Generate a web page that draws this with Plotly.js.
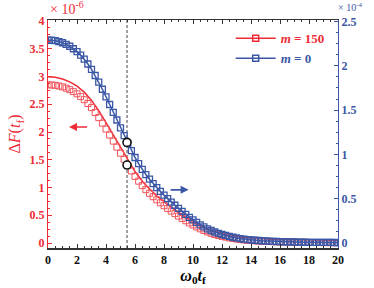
<!DOCTYPE html>
<html>
<head>
<meta charset="utf-8">
<script src="https://cdn.plot.ly/plotly-3.0.1.min.js"></script>
<style>html,body{margin:0;padding:0;background:#fff;}#chart{width:374px;height:288px;}</style>
</head>
<body>
<div id="chart"></div>
<script>
// x grid for marker series (omega0 * tf)
const xMarks = [0,0.25,0.5,0.75,1,1.25,1.5,1.75,2,2.25,2.5,2.75,3,3.25,3.5,3.75,4,4.25,4.5,4.75,5,5.25,5.5,5.75,6,6.25,6.5,6.75,7,7.25,7.5,7.75,8,8.25,8.5,8.75,9,9.25,9.5,9.75,10,10.25,10.5,10.75,11,11.25,11.5,11.75,12,12.25,12.5,12.75,13,13.25,13.5,13.75,14,14.25,14.5,14.75,15,15.25,15.5,15.75,16,16.25,16.5,16.75,17,17.25,17.5,17.75,18,18.25,18.5,18.75,19,19.25,19.5,19.75,20];
// m = 0 (right axis, x1e-4)
const blueM0 = [2.290,2.288,2.283,2.273,2.260,2.242,2.220,2.192,2.160,2.120,2.075,2.020,1.960,1.890,1.815,1.735,1.650,1.563,1.475,1.388,1.300,1.212,1.125,1.043,0.965,0.895,0.830,0.772,0.720,0.670,0.625,0.582,0.540,0.500,0.462,0.426,0.390,0.356,0.322,0.290,0.260,0.232,0.205,0.182,0.160,0.141,0.124,0.109,0.096,0.085,0.074,0.065,0.057,0.050,0.044,0.039,0.035,0.031,0.028,0.025,0.023,0.021,0.019,0.017,0.016,0.014,0.013,0.012,0.011,0.010,0.009,0.0085,0.008,0.0075,0.007,0.0065,0.006,0.006,0.006,0.0055,0.005];
// m = 150 markers (left axis, x1e-6)
const redM150 = [2.850,2.847,2.841,2.829,2.813,2.790,2.763,2.728,2.688,2.638,2.582,2.514,2.439,2.352,2.259,2.159,2.053,1.945,1.836,1.727,1.618,1.508,1.400,1.298,1.201,1.114,1.033,0.961,0.896,0.834,0.778,0.724,0.672,0.622,0.575,0.530,0.485,0.443,0.401,0.361,0.324,0.289,0.255,0.226,0.199,0.175,0.154,0.136,0.119,0.106,0.092,0.081,0.071,0.062,0.055,0.049,0.044,0.039,0.035,0.031,0.029,0.026,0.024,0.021,0.020,0.017,0.016,0.015,0.014,0.012,0.011,0.011,0.010,0.009,0.009,0.008,0.007,0.007,0.007,0.007,0.006];
// m = 150 solid line (left axis, x1e-6)
const xLine = [0,0.5,1,1.5,2,2.5,3,3.5,4,4.5,5,5.5,6,6.5,7,7.5,8,8.5,9,9.5,10,10.5,11,11.5,12,12.5,13,13.5,14,14.5,15,15.5,16,16.5,17,17.5,18,18.5,19,19.5,20];
const redLine = [2.995,2.986,2.956,2.904,2.827,2.718,2.569,2.383,2.170,1.945,1.719,1.494,1.288,1.114,0.972,0.850,0.741,0.640,0.547,0.460,0.380,0.309,0.251,0.205,0.169,0.140,0.118,0.102,0.090,0.081,0.072,0.067,0.063,0.060,0.057,0.055,0.053,0.052,0.051,0.050,0.050];
// highlighted points at the dashed line
const xMark = 5.45;
const redPoint = [1.405];
const bluePoint = [1.135];
const xTicks = [0,2,4,6,8,10,12,14,16,18,20];

const RED = '#ee2b35', BLUE = '#3b57a6';
const SERIF = 'Liberation Serif, Times New Roman, serif';

const traces = [
  {x: xLine, y: redLine, mode: 'lines', line: {color: RED, width: 1.5}, yaxis: 'y', showlegend: false, hoverinfo: 'skip'},
  {x: xMarks, y: redM150, mode: 'markers', marker: {symbol: 'square-open', size: 6, color: '#f2545c', line: {width: 1}}, yaxis: 'y', showlegend: false},
  {x: xMarks, y: blueM0, mode: 'lines+markers', line: {color: BLUE, width: 1.5}, marker: {symbol: 'square-open', size: 6, color: BLUE, line: {width: 1.3}}, yaxis: 'y2', showlegend: false},
  {x: [xMark], y: redPoint, mode: 'markers', marker: {symbol: 'circle', size: 8, color: '#fff', line: {color: '#111', width: 1.6}}, yaxis: 'y', showlegend: false},
  {x: [xMark], y: bluePoint, mode: 'markers', marker: {symbol: 'circle', size: 8, color: '#fff', line: {color: '#111', width: 1.6}}, yaxis: 'y2', showlegend: false},
  {x: [null], y: [null], mode: 'lines+markers', name: '<span style="color:' + RED + '"><b><i>m</i> = 150</b></span>', line: {color: RED, width: 1.5}, marker: {symbol: 'square-open', size: 6, color: RED, line: {width: 1.5}}, yaxis: 'y'},
  {x: [null], y: [null], mode: 'lines+markers', name: '<span style="color:' + BLUE + '"><b><i>m</i> = 0</b></span>', line: {color: BLUE, width: 1.5}, marker: {symbol: 'square-open', size: 6, color: BLUE, line: {width: 1.5}}, yaxis: 'y'}
];

const layout = {
  width: 374, height: 288,
  margin: {l: 48, r: 36, t: 20, b: 40},
  paper_bgcolor: '#fff', plot_bgcolor: '#fff',
  font: {family: SERIF, size: 12, color: '#000'},
  showlegend: true,
  legend: {x: 0.63, y: 0.985, xanchor: 'left', yanchor: 'top', bgcolor: 'rgba(0,0,0,0)', font: {family: SERIF, size: 13}, tracegroupgap: 0, itemwidth: 40},
  xaxis: {
    range: [0, 20], tickvals: xTicks, ticktext: xTicks.map(String),
    ticks: 'inside', ticklen: 4, tickwidth: 1, tickcolor: '#333',
    minor: {dtick: 0.5, ticklen: 2, tickcolor: '#333', ticks: 'inside'},
    showline: true, linecolor: '#333', linewidth: 1.5, mirror: 'ticks',
    showgrid: false, zeroline: false,
    tickfont: {family: SERIF, size: 12, color: '#111', weight: 'bold'},
    title: {text: '<b><i>ω</i><sub>0</sub><i>t</i><sub>f</sub></b>', font: {family: SERIF, size: 16, color: '#000'}, standoff: 1}
  },
  yaxis: {
    range: [-0.09, 4.018], dtick: 0.5, tick0: 0,
    ticks: 'inside', ticklen: 4, tickwidth: 1, tickcolor: RED,
    minor: {dtick: 0.125, ticklen: 2, tickcolor: RED, ticks: 'inside'},
    showline: true, linecolor: RED, linewidth: 1.2,
    showgrid: false, zeroline: false,
    tickfont: {family: SERIF, size: 12, color: RED, weight: 'bold'},
    title: {text: 'Δ<i>F</i>(<i>t</i><sub>f</sub>)', font: {family: SERIF, size: 16, color: RED}, standoff: 4}
  },
  yaxis2: {
    overlaying: 'y', side: 'right',
    range: [-0.0565, 2.5165], dtick: 0.5, tick0: 0,
    ticks: 'inside', ticklen: 4, tickwidth: 1, tickcolor: BLUE,
    minor: {dtick: 0.125, ticklen: 2, tickcolor: BLUE, ticks: 'inside'},
    showline: true, linecolor: BLUE, linewidth: 1.2,
    showgrid: false, zeroline: false,
    tickfont: {family: SERIF, size: 12, color: BLUE, weight: 'bold'}
  },
  shapes: [
    {type: 'line', xref: 'x', yref: 'paper', x0: xMark, x1: xMark, y0: 0, y1: 1, line: {color: '#444', width: 1, dash: '3px,2px'}, layer: 'below'}
  ],
  annotations: [
    {xref: 'paper', yref: 'paper', x: 0, y: 1, xanchor: 'left', yanchor: 'bottom', yshift: 1, showarrow: false,
     text: '× 10<sup>-6</sup>', font: {family: SERIF, size: 14, color: RED}},
    {xref: 'paper', yref: 'paper', x: 1, y: 1, xanchor: 'left', yanchor: 'bottom', xshift: -2, yshift: 5, showarrow: false,
     text: '× 10<sup>-4</sup>', font: {family: SERIF, size: 10, color: BLUE}},
    {xref: 'x', yref: 'y', axref: 'x', ayref: 'y', x: 1.45, y: 2.09, ax: 2.8, ay: 2.09, text: '', showarrow: true,
     arrowhead: 2, arrowsize: 1, arrowwidth: 1.6, arrowcolor: RED},
    {xref: 'x', yref: 'y2', axref: 'x', ayref: 'y2', x: 9.7, y: 0.6, ax: 8.35, ay: 0.6, text: '', showarrow: true,
     arrowhead: 2, arrowsize: 1, arrowwidth: 1.6, arrowcolor: BLUE}
  ]
};

Plotly.newPlot('chart', traces, layout, {displayModeBar: false, staticPlot: true});
</script>
</body>
</html>
